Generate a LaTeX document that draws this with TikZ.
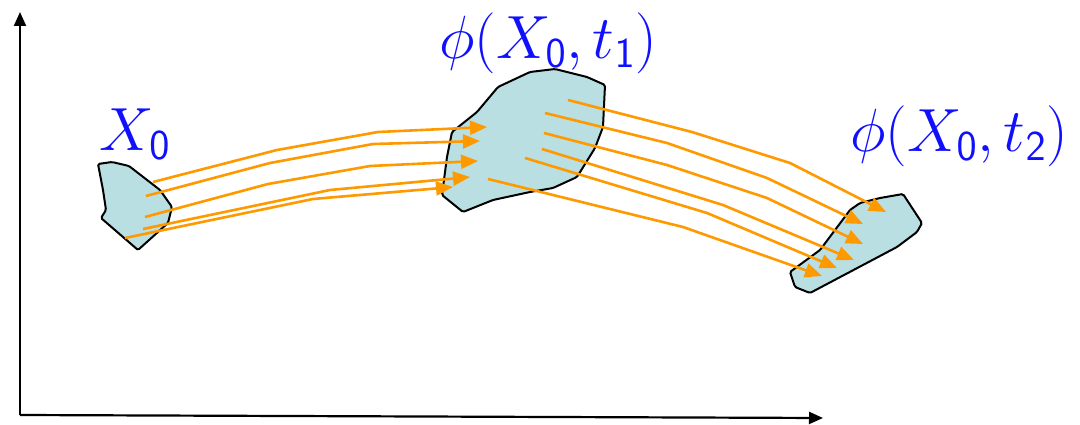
\RequirePackage{fix-cm}
\documentclass[tikz,border=0pt]{standalone}
\usetikzlibrary{arrows.meta}
\definecolor{flow}{RGB}{255,153,0}
\definecolor{blobfill}{RGB}{185,223,227}
\definecolor{lbl}{RGB}{16,16,255}
\begin{document}
\begin{tikzpicture}[x=1pt,y=-1pt,
  axis/.style={line width=2.2pt,-{Triangle[length=14pt,width=12pt]}},
  blob/.style={draw=black,line width=2pt,fill=blobfill,rounded corners=1.5pt},
  flowline/.style={draw=flow,line width=2.6pt,-{Triangle[length=17pt,width=14pt]}},
  lab/.style={text=lbl,font=\fontsize{61}{72}\selectfont,inner sep=0pt}]
\useasboundingbox (0,0) rectangle (1080,425);
% axes
\coordinate (O) at (20,415);
\coordinate (Ytip) at (20,12);
\coordinate (Xtip) at (823,418);
\draw[axis] (O) -- (Ytip);
\draw[axis] (O) -- (Xtip);
% blobs
\draw[blob] (98,164) -- (112,162) -- (129,166) -- (160,190) -- (172,207) -- (168,223)
  -- (138,250) -- (101,218) -- (106,210) -- (103,190) -- cycle;
\draw[blob] (463,212) -- (442,195) -- (447,157) -- (452,132) -- (477,112) -- (498,87)
  -- (530,72) -- (555,69) -- (587,77) -- (605,85) -- (603,127) -- (595,148)
  -- (577,177) -- (553,188) -- (530,192) -- (493,200) -- cycle;
\draw[blob] (790,272) -- (820,250) -- (850,210) -- (860,203) -- (880,198) -- (903,194)
  -- (922,223) -- (917,232) -- (897,247) -- (810,293) -- (795,287) -- cycle;
% flow lines, first step
\draw[flowline] (153,182) -- (277,150) -- (378,132) -- (487,127);
\draw[flowline] (146,196) -- (270,163) -- (373,144) -- (480,141);
\draw[flowline] (145,217) -- (268,184) -- (370,166) -- (478,161);
\draw[flowline] (143,229) -- (330,190) -- (470,177);
\draw[flowline] (125,238) -- (313,199) -- (453,187);
% flow lines, second step
\draw[flowline] (568,100) -- (692,132) -- (790,163) -- (886,212);
\draw[flowline] (545,113) -- (667,143) -- (767,178) -- (863,224);
\draw[flowline] (544,133) -- (667,165) -- (767,198) -- (863,244);
\draw[flowline] (542,149) -- (723,205) -- (854,260);
\draw[flowline] (525,158) -- (707,213) -- (837,268);
\draw[flowline] (488,179) -- (683,227) -- (822,276);
% labels
\node[lab] (l0) at (135,134) {$X_{\mathsf{0}}$};
\node[lab] (l1) at (548,43) {$\phi(X_{\mathsf{0}},t_{\mathsf{1}})$};
\node[lab] (l2) at (959,136) {$\phi(X_{\mathsf{0}},t_{\mathsf{2}})$};
\end{tikzpicture}
\end{document}
